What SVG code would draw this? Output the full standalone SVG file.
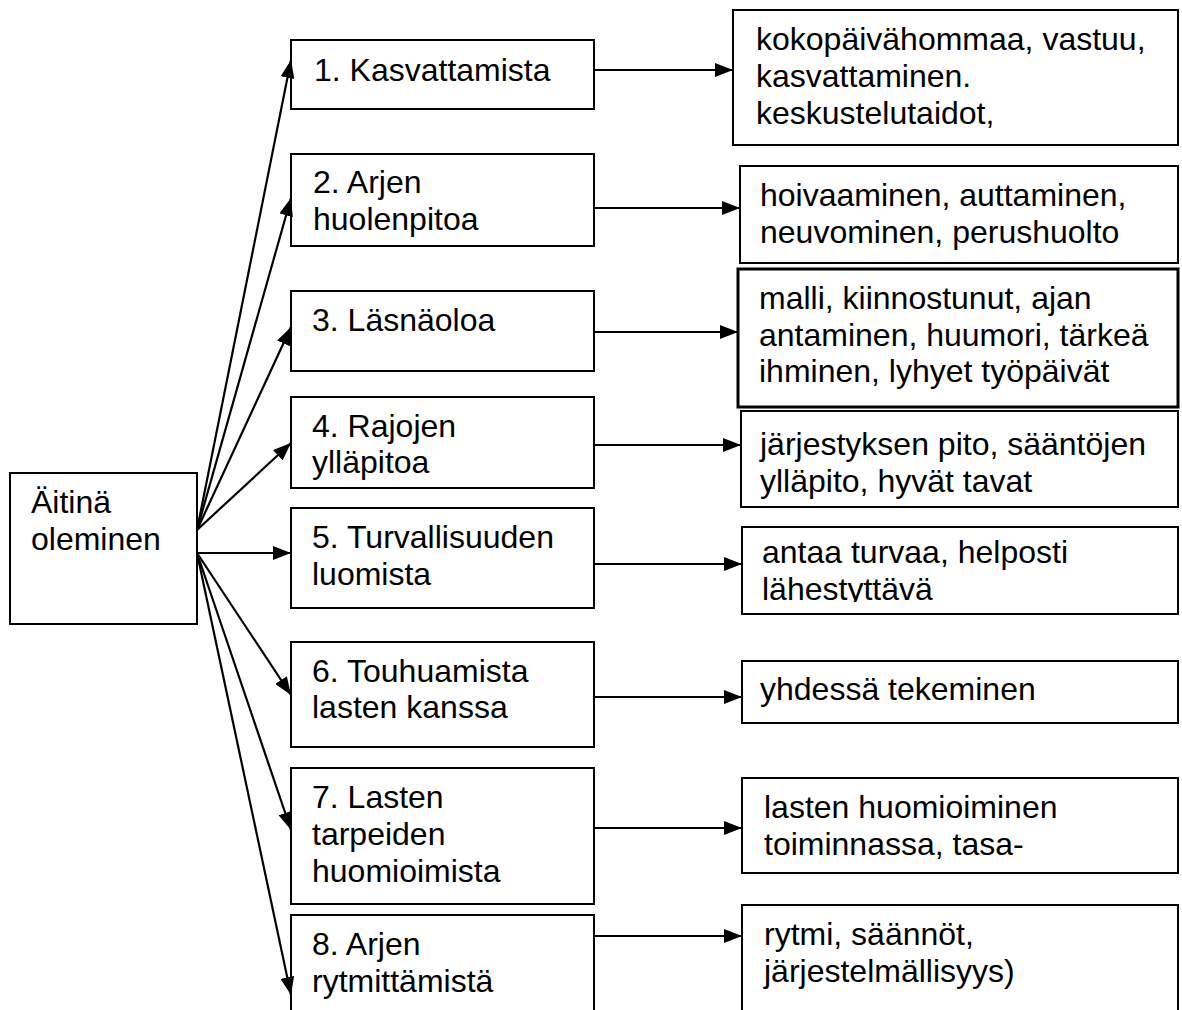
<svg xmlns="http://www.w3.org/2000/svg" width="1182" height="1010" viewBox="0 0 1182 1010">
<defs>
<marker id="ah" markerUnits="userSpaceOnUse" markerWidth="19" markerHeight="14" refX="18" refY="7" orient="auto">
<path d="M0,0 L18,7 L0,14 z" fill="#000"/>
</marker>
<clipPath id="clip5"><rect x="742" y="527" width="436" height="75"/></clipPath>
<style>
.box{fill:#fff;stroke:#000;stroke-width:2}
.thick{stroke-width:3}
.t{font-family:"Liberation Sans",Arial,sans-serif;font-size:32px;fill:#000}
.c{stroke:#000;stroke-width:2.2;fill:none;marker-end:url(#ah)}
</style>
</defs>
<rect width="1182" height="1010" fill="#fff"/>
<g id="root">
<rect class="box" x="10" y="473" width="187" height="151"/>
<text class="t" x="31" y="513">Äitinä</text>
<text class="t" x="31" y="550">oleminen</text>
</g>
<g id="b1"><rect class="box" x="291" y="40" width="303" height="69"/><text class="t" x="314" y="81">1. Kasvattamista</text></g>
<g id="b2"><rect class="box" x="291" y="154" width="303" height="92"/><text class="t" x="313" y="193">2. Arjen</text><text class="t" x="313" y="230">huolenpitoa</text></g>
<g id="b3"><rect class="box" x="291" y="291" width="303" height="80"/><text class="t" x="312" y="331">3. Läsnäoloa</text></g>
<g id="b4"><rect class="box" x="291" y="397" width="303" height="91"/><text class="t" x="312" y="437">4. Rajojen</text><text class="t" x="312" y="473">ylläpitoa</text></g>
<g id="b5"><rect class="box" x="291" y="508" width="303" height="100"/><text class="t" x="312" y="548">5. Turvallisuuden</text><text class="t" x="312" y="585">luomista</text></g>
<g id="b6"><rect class="box" x="291" y="642" width="303" height="105"/><text class="t" x="312" y="682">6. Touhuamista</text><text class="t" x="312" y="718">lasten kanssa</text></g>
<g id="b7"><rect class="box" x="291" y="768" width="303" height="136"/><text class="t" x="312" y="808">7. Lasten</text><text class="t" x="312" y="845">tarpeiden</text><text class="t" x="312" y="882">huomioimista</text></g>
<g id="b8"><rect class="box" x="291" y="915" width="303" height="110"/><text class="t" x="312" y="955">8. Arjen</text><text class="t" x="312" y="992">rytmittämistä</text></g>
<g id="r1"><rect class="box" x="733" y="10" width="445" height="135"/><text class="t" x="756" y="50">kokopäivähommaa, vastuu,</text><text class="t" x="756" y="87">kasvattaminen.</text><text class="t" x="756" y="124">keskustelutaidot,</text></g>
<g id="r2"><rect class="box" x="740" y="166" width="438" height="97"/><text class="t" x="760" y="206">hoivaaminen, auttaminen,</text><text class="t" x="760" y="243">neuvominen, perushuolto</text></g>
<g id="r3"><rect class="box thick" x="738" y="269" width="440" height="138"/><text class="t" x="759" y="309">malli, kiinnostunut, ajan</text><text class="t" x="759" y="346">antaminen, huumori, tärkeä</text><text class="t" x="759" y="382">ihminen, lyhyet työpäivät</text></g>
<g id="r4"><rect class="box" x="741" y="411" width="437" height="96"/><text class="t" x="760" y="455">järjestyksen pito, sääntöjen</text><text class="t" x="760" y="492">ylläpito, hyvät tavat</text></g>
<g id="r5"><rect class="box" x="742" y="527" width="436" height="87"/><g clip-path="url(#clip5)"><text class="t" x="762" y="563">antaa turvaa, helposti</text><text class="t" x="762" y="600">lähestyttävä</text></g></g>
<g id="r6"><rect class="box" x="742" y="661" width="436" height="62"/><text class="t" x="760" y="700">yhdessä tekeminen</text></g>
<g id="r7"><rect class="box" x="742" y="778" width="436" height="95"/><text class="t" x="764" y="818">lasten huomioiminen</text><text class="t" x="764" y="855">toiminnassa, tasa-</text></g>
<g id="r8"><rect class="box" x="742" y="905" width="436" height="120"/><text class="t" x="764" y="945">rytmi, säännöt,</text><text class="t" x="764" y="982">järjestelmällisyys)</text></g>
<g id="connectors">
<line class="c" x1="197" y1="530" x2="291" y2="60"/>
<line class="c" x1="197" y1="530" x2="291" y2="198"/>
<line class="c" x1="197" y1="530" x2="291" y2="327"/>
<line class="c" x1="197" y1="530" x2="291" y2="443"/>
<line class="c" x1="197" y1="553" x2="291" y2="553"/>
<line class="c" x1="197" y1="553" x2="291" y2="695"/>
<line class="c" x1="197" y1="553" x2="291" y2="830"/>
<line class="c" x1="197" y1="553" x2="291" y2="995"/>
<line class="c" x1="593" y1="70" x2="733" y2="70"/>
<line class="c" x1="593" y1="208" x2="740" y2="208"/>
<line class="c" x1="593" y1="332" x2="738" y2="332"/>
<line class="c" x1="593" y1="445" x2="741" y2="445"/>
<line class="c" x1="593" y1="564" x2="742" y2="564"/>
<line class="c" x1="593" y1="697" x2="742" y2="697"/>
<line class="c" x1="593" y1="828" x2="742" y2="828"/>
<line class="c" x1="593" y1="936" x2="742" y2="936"/>
</g>
</svg>
